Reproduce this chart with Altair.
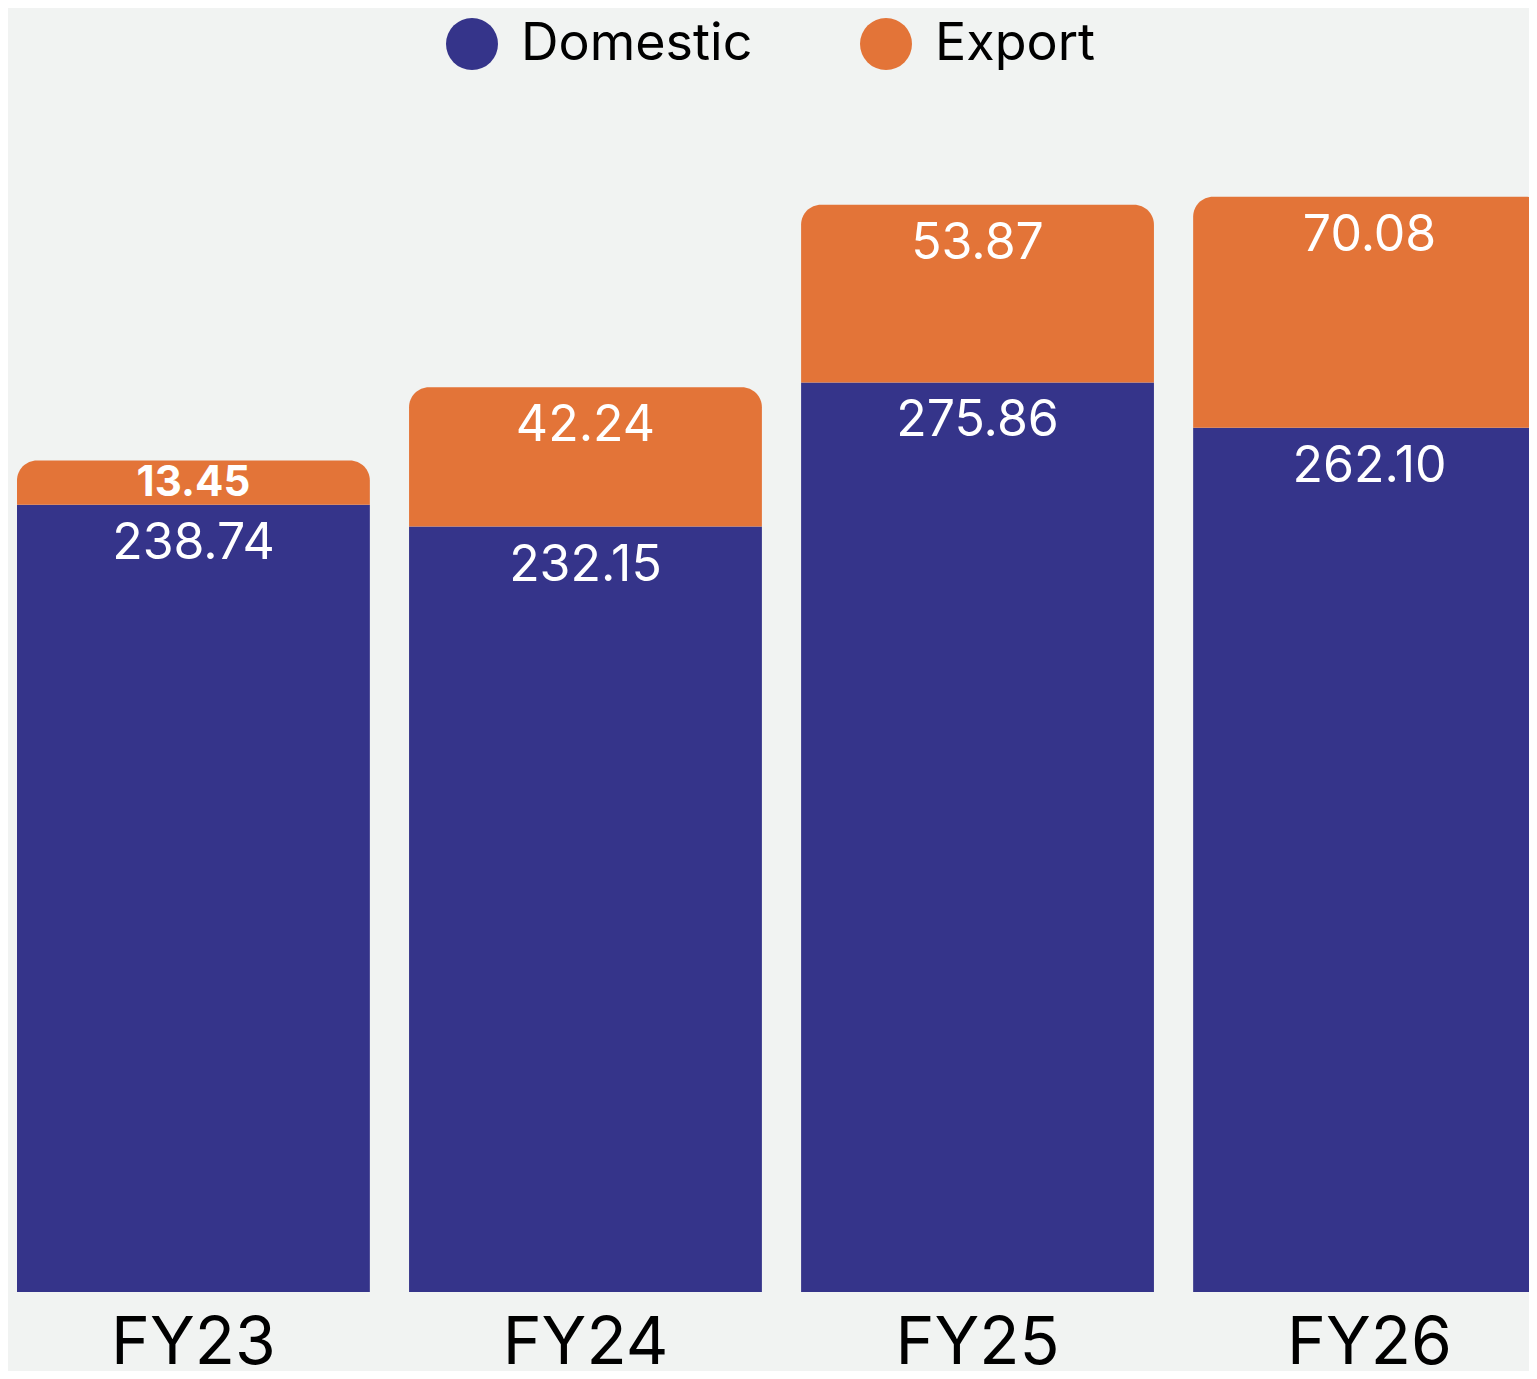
import altair as alt
import pandas as pd

years = ["FY23", "FY24", "FY25", "FY26"]
domestic = [238.74, 232.15, 275.86, 262.10]
export = [13.45, 42.24, 53.87, 70.08]
series = ["Domestic", "Export"]
colors = ["#35348A", "#E37438"]

rows = []
for yr, d, e in zip(years, domestic, export):
    rows.append({"year": yr, "series": "Domestic", "order": 0, "value": d, "label": f"{d:.2f}"})
    rows.append({"year": yr, "series": "Export", "order": 1, "value": e, "label": f"{e:.2f}"})
df = pd.DataFrame(rows)

FONT = "Inter"

base = alt.Chart(df).transform_stack(
    stack="value", groupby=["year"], as_=["y0", "y1"],
    sort=[alt.SortField("order", order="ascending")]
)

x = alt.X("year:N", sort=years, title=None,
          scale=alt.Scale(paddingInner=0.1, paddingOuter=0, range=[0, 1529]),
          axis=alt.Axis(labelFontSize=66, labelFont=FONT, labelColor="#000000",
                        labelPadding=19, domain=False, ticks=False, labelAngle=0, grid=False))
y = alt.Y("y1:Q", scale=alt.Scale(domain=[0, 360]), axis=None)
y2 = alt.Y2("y0:Q")
color = alt.Color("series:N", scale=alt.Scale(domain=series, range=colors),
                  legend=alt.Legend(orient="none", legendX=429, legendY=-87,
                                    direction="horizontal", title=None,
                                    symbolType="circle", symbolSize=2704,
                                    symbolStrokeWidth=0, symbolOpacity=1,
                                    labelFontSize=52, labelFont=FONT, labelColor="#000000",
                                    labelOffset=23, columnPadding=107, padding=0,
                                    labelLimit=500))

dom_bar = base.transform_filter("datum.series == 'Domestic'").mark_bar(clip=True).encode(
    x=x, y=y, y2=y2, color=color)
exp_bar = base.transform_filter("datum.series == 'Export'").mark_bar(
    clip=True, cornerRadiusTopLeft=20, cornerRadiusTopRight=20).encode(x=x, y=y, y2=y2, color=color)

dom_text = base.transform_filter("datum.series == 'Domestic'").mark_text(
    dy=54, baseline="alphabetic", fontSize=50, font=FONT, color="white").encode(
    x=x, y=y, text="label:N")
exp_text = base.transform_filter("datum.series == 'Export' && datum.value >= 20").mark_text(
    dy=54, baseline="alphabetic", fontSize=50, font=FONT, color="white").encode(
    x=x, y=y, text="label:N")
exp_small = base.transform_filter("datum.series == 'Export' && datum.value < 20").mark_text(
    dy=36, baseline="alphabetic", fontSize=42, font=FONT, fontWeight="bold", color="white").encode(
    x=x, y=y, text="label:N")

chart = alt.layer(dom_bar, exp_bar, dom_text, exp_text, exp_small).properties(
    width=1512, height=1187,
    autosize=alt.AutoSizeParams(type="none"),
    padding={"left": 9, "top": 97, "right": 0, "bottom": 79},
    background="#F1F3F2",
).configure_view(strokeWidth=0)

chart.save("out.html", embed_options={"renderer": "svg", "actions": False})
